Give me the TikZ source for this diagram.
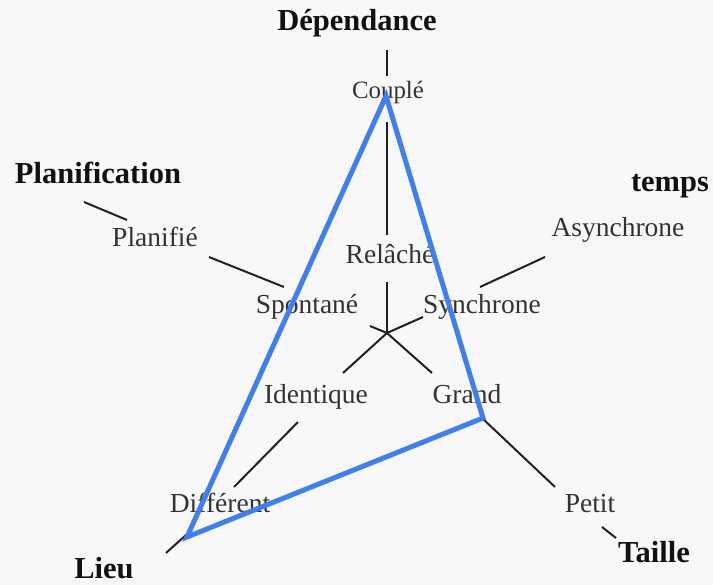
\documentclass[tikz,border=0pt]{standalone}
\usepackage{fontspec}
\setmainfont{Liberation Serif}
\definecolor{bg}{HTML}{F8F8F8}
\definecolor{axisc}{HTML}{222222}
\definecolor{labc}{HTML}{333333}
\definecolor{dimc}{HTML}{111111}
\definecolor{polyc}{HTML}{3F7FEE}
\begin{document}
\begin{tikzpicture}[x=1pt,y=-1pt,
  val/.style={anchor=base,text=labc,inner sep=0pt,font={\fontsize{27.5}{30}\selectfont}},
  small/.style={font={\fontsize{24.9}{27}\selectfont}},
  dim/.style={anchor=base,text=dimc,inner sep=0pt,font={\fontsize{30.5}{33}\selectfont\bfseries}},
  axis/.style={draw=axisc,line width=2pt},
  profile/.style={draw=polyc,line width=5pt,line join=miter}]
\fill[bg] (0,0) rectangle (713,585);
\useasboundingbox (0,0) rectangle (713,585);
% labels
\node[dim] (dep) at (357,31) {Dépendance};
\node[val,small] (couple) at (388,99) {Couplé};
\node[val] (relache) at (390,264) {Relâché};
\node[dim] (plan) at (98,184) {Planification};
\node[val] (planifie) at (155,247) {Planifié};
\node[val] (spontane) at (307,314) {Spontané};
\node[dim] (temps) at (670,192) {temps};
\node[val] (async) at (618,237) {Asynchrone};
\node[val] (sync) at (482,314) {Synchrone};
\node[val] (ident) at (316,404) {Identique};
\node[val] (grand) at (467,404) {Grand};
\node[val] (diff) at (220,512) {Différent};
\node[dim] (lieu) at (104,578) {Lieu};
\node[val] (petit) at (590,512) {Petit};
\node[dim] (taille) at (654,562) {Taille};
% axis segment ends
\coordinate (O) at (387,333);
\coordinate (d1) at (387,50);  \coordinate (d2) at (387,76);
\coordinate (d3) at (387,122); \coordinate (d4) at (387,235);
\coordinate (d5) at (387,282);
\coordinate (p1) at (84,202);  \coordinate (p2) at (127,220);
\coordinate (p3) at (209,257); \coordinate (p4) at (284,287);
\coordinate (p5) at (370,326);
\coordinate (t3) at (545,257); \coordinate (t4) at (480,287);
\coordinate (t5) at (423,317);
\coordinate (l5) at (343,373);
\coordinate (l3) at (298,422); \coordinate (l4) at (234,487);
\coordinate (l1) at (186,535); \coordinate (l2) at (166,553);
\coordinate (s5) at (432,373);
\coordinate (s3) at (482,418); \coordinate (s4) at (555,487);
\coordinate (s1) at (602,527); \coordinate (s2) at (616,538);
% axes
\draw[axis] (d1) -- (d2);
\draw[axis] (d3) -- (d4);
\draw[axis] (d5) -- (O);
\draw[axis] (p1) -- (p2);
\draw[axis] (p3) -- (p4);
\draw[axis] (p5) -- (O);
\draw[axis] (t3) -- (t4);
\draw[axis] (t5) -- (O);
\draw[axis] (O) -- (l5);
\draw[axis] (l3) -- (l4);
\draw[axis] (l1) -- (l2);
\draw[axis] (O) -- (s5);
\draw[axis] (s3) -- (s4);
\draw[axis] (s1) -- (s2);
% profile
\coordinate (vD) at (386,96);
\coordinate (vT) at (483,418);
\coordinate (vL) at (187,537);
\draw[profile] (vD) -- (vT) -- (vL) -- cycle;
\end{tikzpicture}
\end{document}
